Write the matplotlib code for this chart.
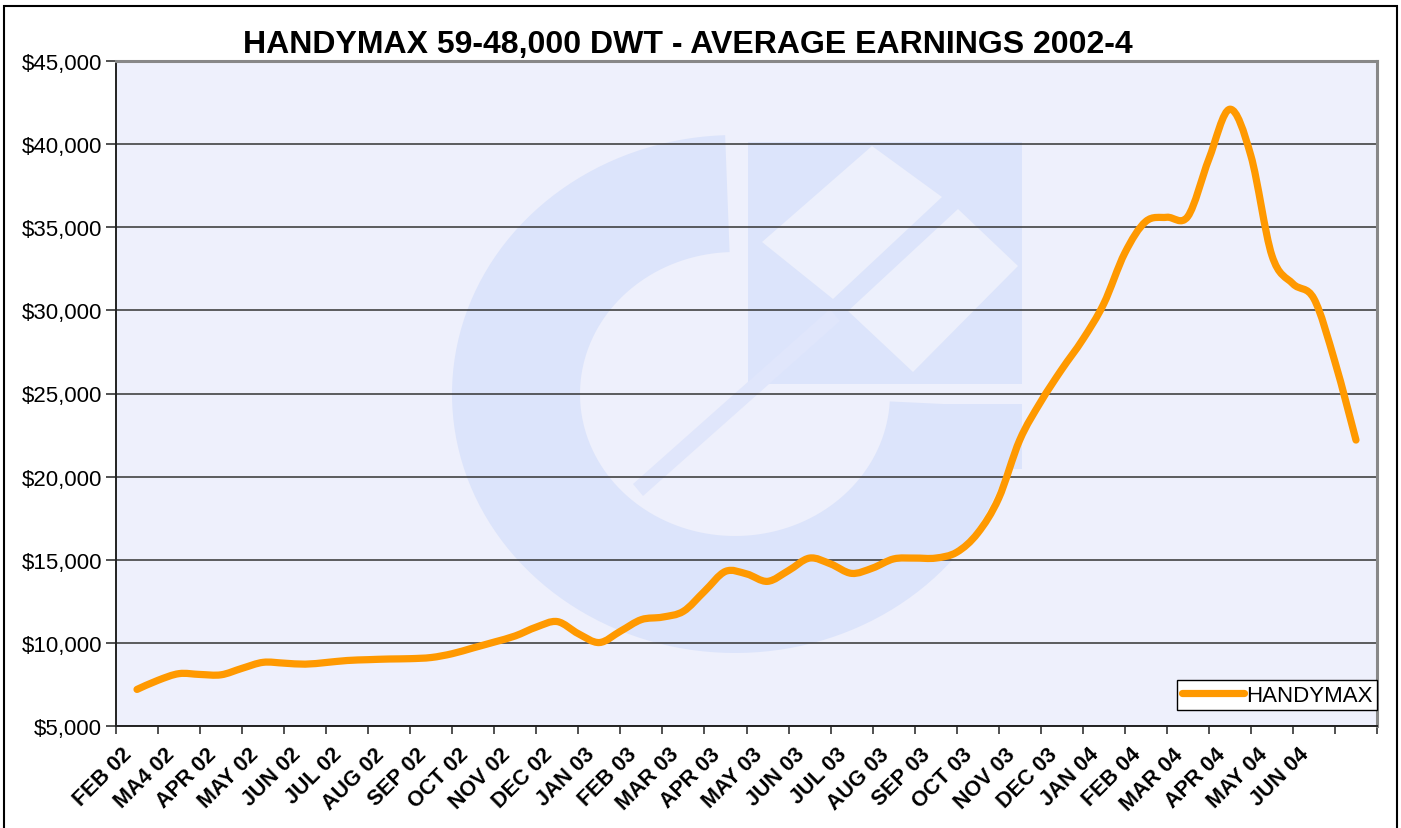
import matplotlib
matplotlib.use('Agg')
import matplotlib.pyplot as plt
import matplotlib.transforms as mtransforms
from matplotlib.patches import Polygon, Rectangle, PathPatch
from matplotlib.path import Path
from matplotlib.lines import Line2D
import numpy as np

plt.rcParams['font.family'] = ['Liberation Sans', 'DejaVu Sans']

TITLE = 'HANDYMAX 59-48,000 DWT - AVERAGE EARNINGS 2002-4'
SERIES_NAME = 'HANDYMAX'

months = ['FEB 02', 'MA4 02', 'APR 02', 'MAY 02', 'JUN 02', 'JUL 02', 'AUG 02',
          'SEP 02', 'OCT 02', 'NOV 02', 'DEC 02', 'JAN 03', 'FEB 03', 'MAR 03',
          'APR 03', 'MAY 03', 'JUN 03', 'JUL 03', 'AUG 03', 'SEP 03', 'OCT 03',
          'NOV 03', 'DEC 03', 'JAN 04', 'FEB 04', 'MAR 04', 'APR 04', 'MAY 04',
          'JUN 04', '']

# twice-monthly earnings readings, $/day
earnings = [7200, 7750, 8150, 8100, 8080, 8470, 8830, 8780, 8720, 8820,
            8940, 8990, 9030, 9050, 9120, 9350, 9700, 10050, 10420, 10950,
            11280, 10550, 10020, 10700, 11400, 11550, 11900, 13100, 14300, 14150,
            13700, 14350, 15100, 14750, 14180, 14500, 15050, 15100, 15100, 15450,
            16600, 18700, 22200, 24500, 26450, 28250, 30400, 33450, 35350, 35600,
            35650, 39100, 42100, 39300, 33300, 31600, 30700, 26900, 22200]

y_ticks = [5000, 10000, 15000, 20000, 25000, 30000, 35000, 40000, 45000]

LINE_COLOR = '#FF9900'
PLOT_BG = '#EEF0FC'
MARK = '#DCE4FB'
MARK_LIGHT = '#EDF0FC'

W, H = 1401, 829
fig = plt.figure(figsize=(W / 100, H / 100), dpi=100)
ax = fig.add_axes([116 / W, 1 - 727 / H, (1377 - 116) / W, (727 - 62) / H])
ax.set_facecolor(PLOT_BG)


def px(x, y):
    # reference pixel -> figure fraction
    return (x / W, 1 - y / H)


def add_shape(points, color, z=0.6):
    poly = Polygon([px(x, y) for x, y in points], closed=True, transform=fig.transFigure,
                   facecolor=color, edgecolor='none', zorder=z)
    ax.add_patch(poly)


def smooth_path(xs, ys):
    # excel style smoothed line: catmull-rom segments as cubic beziers
    pts = np.column_stack([xs, ys]).astype(float)
    verts = [pts[0]]
    codes = [Path.MOVETO]
    n = len(pts)
    for i in range(n - 1):
        p0 = pts[max(i - 1, 0)]
        p1 = pts[i]
        p2 = pts[i + 1]
        p3 = pts[min(i + 2, n - 1)]
        verts += [p1 + (p2 - p0) / 6, p2 - (p3 - p1) / 6, p2]
        codes += [Path.CURVE4] * 3
    return Path(verts, codes)


# faint company logo watermark
cx, cy = 735, 395
theta = np.radians(np.linspace(92, 357, 120))
outer = [(cx + 283 * np.cos(t), cy - 259 * np.sin(t)) for t in theta]
inner = [(cx + 155 * np.cos(t), cy - 142 * np.sin(t)) for t in theta[::-1]]
add_shape(outer + inner, MARK)
add_shape([(890, 405), (1022, 405), (1022, 470), (890, 470)], MARK)
add_shape([(748, 143), (1022, 143), (1022, 385), (748, 385)], MARK)
add_shape([(762, 243), (872, 147), (942, 198), (833, 300)], MARK_LIGHT, 0.7)
add_shape([(848, 312), (958, 210), (1018, 267), (913, 373)], MARK_LIGHT, 0.7)
add_shape([(830, 310), (840, 322), (643, 497), (633, 485)], '#E0E6FB', 0.7)

x = np.arange(len(earnings)) / 2
ax.add_patch(PathPatch(smooth_path(x, earnings), facecolor='none', edgecolor=LINE_COLOR,
                       lw=5.2, joinstyle='round', capstyle='round', zorder=3))

ax.set_xlim(-0.5, len(months) - 0.5)
ax.set_ylim(5000, 45000)
ax.set_yticks(y_ticks)
ax.set_yticklabels(['${:,}'.format(v) for v in y_ticks], fontsize=16)
ax.yaxis.grid(True, color='#333333', lw=1.1)
ax.tick_params(axis='y', length=7, width=1.2, color='#333333', pad=3)

ax.set_xticks(np.arange(len(months) + 1) - 0.5)
ax.set_xticklabels([])
ax.tick_params(axis='x', which='major', length=6, width=1.2, color='#333333')
ax.set_xticks(np.arange(len(months)), minor=True)
ax.set_xticklabels(months, minor=True, rotation=45, ha='right', va='center',
                   rotation_mode='anchor', fontsize=15.5, fontweight='bold')
ax.tick_params(axis='x', which='minor', length=0, pad=0)
shift = mtransforms.ScaledTranslation(-8 / 100, -25 / 100, fig.dpi_scale_trans)
for lab in ax.get_xticklabels(minor=True):
    lab.set_transform(lab.get_transform() + shift)

for side in ['top', 'right']:
    ax.spines[side].set_color('#888888')
    ax.spines[side].set_linewidth(2.2)
for side in ['left', 'bottom']:
    ax.spines[side].set_color('#222222')
    ax.spines[side].set_linewidth(1.4)

handle = Line2D([], [], color=LINE_COLOR, lw=5.2, solid_capstyle='round')
leg = ax.legend([handle], [SERIES_NAME], loc='lower right', bbox_to_anchor=(1.0, 0.024),
                borderaxespad=0, fontsize=16, fancybox=False, framealpha=1,
                edgecolor='black', handlelength=2.8, handletextpad=0.1, borderpad=0.2)
leg.get_frame().set_linewidth(1.0)
leg.set_zorder(5)

fig.text(688 / W, 1 - 45 / H, TITLE, ha='center', va='center', fontsize=23,
         fontweight='bold')

fig.patches.append(Rectangle((4 / W, -0.05), (1397 - 4) / W, 1 - 7 / H + 0.05,
                             transform=fig.transFigure, fill=False,
                             edgecolor='black', lw=1.5))

fig.savefig('out.png', dpi=100)
